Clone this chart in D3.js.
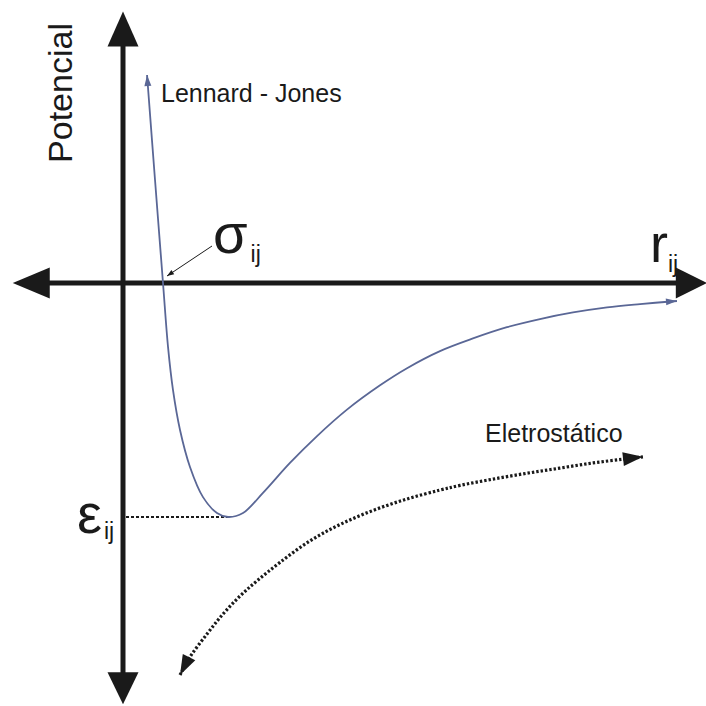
<!DOCTYPE html>
<html>
<head>
<meta charset="utf-8">
<script src="https://cdn.jsdelivr.net/npm/d3@7"></script>
<style>
  html, body { margin: 0; padding: 0; background: #fff; }
  text { font-family: "Liberation Sans", Arial, sans-serif; fill: #1a1a1a; }
</style>
</head>
<body>
<div id="chart"></div>
<script>
// r in units of r_min, V in units of epsilon
var ljR = [0.229, 0.305, 0.381, 0.429, 0.476, 0.543, 0.638, 0.762, 0.895, 1.0, 1.143, 1.333,
           1.590, 1.848, 2.133, 2.448, 2.705, 3.019, 3.333, 3.657, 3.971, 4.286, 4.610, 4.924, 5.276];
var ljV = [0.889, 0.440, 0.0, -0.274, -0.457, -0.628, -0.786, -0.915, -0.983, -1.0, -0.983, -0.897,
           -0.769, -0.654, -0.541, -0.437, -0.364, -0.291, -0.237, -0.189, -0.154, -0.126, -0.104, -0.090, -0.077];

var elR = [0.543, 0.638, 0.800, 0.952, 1.114, 1.276, 1.495, 1.781, 2.067, 2.381, 2.705, 3.019,
           3.210, 3.524, 3.848, 4.162, 4.476, 4.762, 4.952];
var elV = [-1.675, -1.598, -1.500, -1.415, -1.338, -1.273, -1.194, -1.102, -1.032, -0.972, -0.923, -0.885,
           -0.865, -0.838, -0.813, -0.791, -0.769, -0.753, -0.743];

var rAxisExtent = [-1.05, 5.56];
var vAxisExtent = [-1.80, 1.16];
var sigmaR = 0.381;
var rMin = 1.0;
var epsilon = -1.0;

var svgWidth = 706;
var svgHeight = 706;

var svg = d3.select("#chart")
    .append("svg")
    .attr("width", svgWidth)
    .attr("height", svgHeight);

// scales (origin of the axes at 123,283)
var xScale = d3.scaleLinear().domain([0, 1]).range([123, 228]);
var yScale = d3.scaleLinear().domain([0, -1]).range([283, 517]);

var ljColor = "#5a6796";
var ink = "#1a1a1a";

// markers
var defs = svg.append("defs");
function addMarker(id, len, wid, color) {
    defs.append("marker")
        .attr("id", id)
        .attr("markerUnits", "userSpaceOnUse")
        .attr("markerWidth", len)
        .attr("markerHeight", wid)
        .attr("refX", len)
        .attr("refY", wid / 2)
        .attr("orient", "auto-start-reverse")
        .style("overflow", "visible")
        .append("path")
        .attr("d", `M0,0 L${len},${wid / 2} L0,${wid} Z`)
        .attr("fill", color);
}
addMarker("ljArrow", 11, 7, ljColor);
addMarker("elArrow", 20, 14, ink);
addMarker("smallArrow", 7, 5, ink);

// axes
var x0 = xScale(0), y0 = yScale(0);
var xl = xScale(rAxisExtent[0]), xr = xScale(rAxisExtent[1]);
var yt = yScale(vAxisExtent[1]), yb = yScale(vAxisExtent[0]);
var headLen = 35, headHalf = 15.5;

svg.append("line")
    .attr("x1", xl + 10).attr("x2", xr - 10)
    .attr("y1", y0).attr("y2", y0)
    .attr("stroke", ink).attr("stroke-width", 5);
svg.append("line")
    .attr("x1", x0).attr("x2", x0)
    .attr("y1", yt + 10).attr("y2", yb - 10)
    .attr("stroke", ink).attr("stroke-width", 5);

var heads = [
    [[x0, yt], [x0 - headHalf, yt + headLen], [x0 + headHalf, yt + headLen]],
    [[x0, yb], [x0 - headHalf, yb - headLen + 3], [x0 + headHalf, yb - headLen + 3]],
    [[xl, y0], [xl + headLen + 2, y0 - headHalf], [xl + headLen + 2, y0 + headHalf]],
    [[xr, y0], [xr - headLen + 4, y0 - headHalf], [xr - headLen + 4, y0 + headHalf]]
];
svg.selectAll("polygon.head")
    .data(heads)
    .enter()
    .append("polygon")
    .attr("class", "head")
    .attr("points", d => d.map(p => p.join(",")).join(" "))
    .attr("fill", ink);

// epsilon dotted guide
svg.append("line")
    .attr("x1", x0 + 3).attr("x2", xScale(rMin))
    .attr("y1", yScale(epsilon)).attr("y2", yScale(epsilon))
    .attr("stroke", ink).attr("stroke-width", 2)
    .attr("stroke-dasharray", "3,2");

// curves
var line = d3.line()
    .x(d => xScale(d[0]))
    .y(d => yScale(d[1]))
    .curve(d3.curveCatmullRom.alpha(0.5));

var ljData = ljR.map((r, i) => [r, ljV[i]]);
var elData = elR.map((r, i) => [r, elV[i]]);

svg.append("path")
    .datum(elData)
    .attr("d", line)
    .attr("fill", "none")
    .attr("stroke", ink)
    .attr("stroke-width", 3.2)
    .attr("stroke-dasharray", "2.4,2")
    .attr("marker-start", "url(#elArrow)")
    .attr("marker-end", "url(#elArrow)");

svg.append("path")
    .datum(ljData)
    .attr("d", line)
    .attr("fill", "none")
    .attr("stroke", ljColor)
    .attr("stroke-width", 1.8)
    .attr("marker-start", "url(#ljArrow)")
    .attr("marker-end", "url(#ljArrow)");

// sigma pointer
svg.append("line")
    .attr("x1", xScale(sigmaR) + 49).attr("y1", yScale(0) - 37)
    .attr("x2", xScale(sigmaR) + 4).attr("y2", yScale(0) - 7)
    .attr("stroke", ink).attr("stroke-width", 1)
    .attr("marker-end", "url(#smallArrow)");

// labels
svg.append("text")
    .attr("transform", "translate(72,93) rotate(-90)")
    .attr("text-anchor", "middle")
    .style("font-size", "34px")
    .text("Potencial");

svg.append("text")
    .attr("x", 161).attr("y", 102)
    .style("font-size", "25px")
    .text("Lennard - Jones");

svg.append("text")
    .attr("x", 485).attr("y", 442)
    .style("font-size", "25px")
    .text("Eletrostático");

function symbolLabel(x, y, main, size, subDx, subDy) {
    var t = svg.append("text").attr("x", x).attr("y", y);
    t.append("tspan").style("font-size", size + "px").text(main);
    t.append("tspan")
        .attr("dx", subDx).attr("dy", subDy)
        .style("font-size", "23px")
        .text("ij");
}
symbolLabel(213, 253, "σ", 56, 3, 9);
symbolLabel(77, 533, "ε", 56, 2, 6);
symbolLabel(650, 262, "r", 54, 0, 10);
</script>
</body>
</html>
